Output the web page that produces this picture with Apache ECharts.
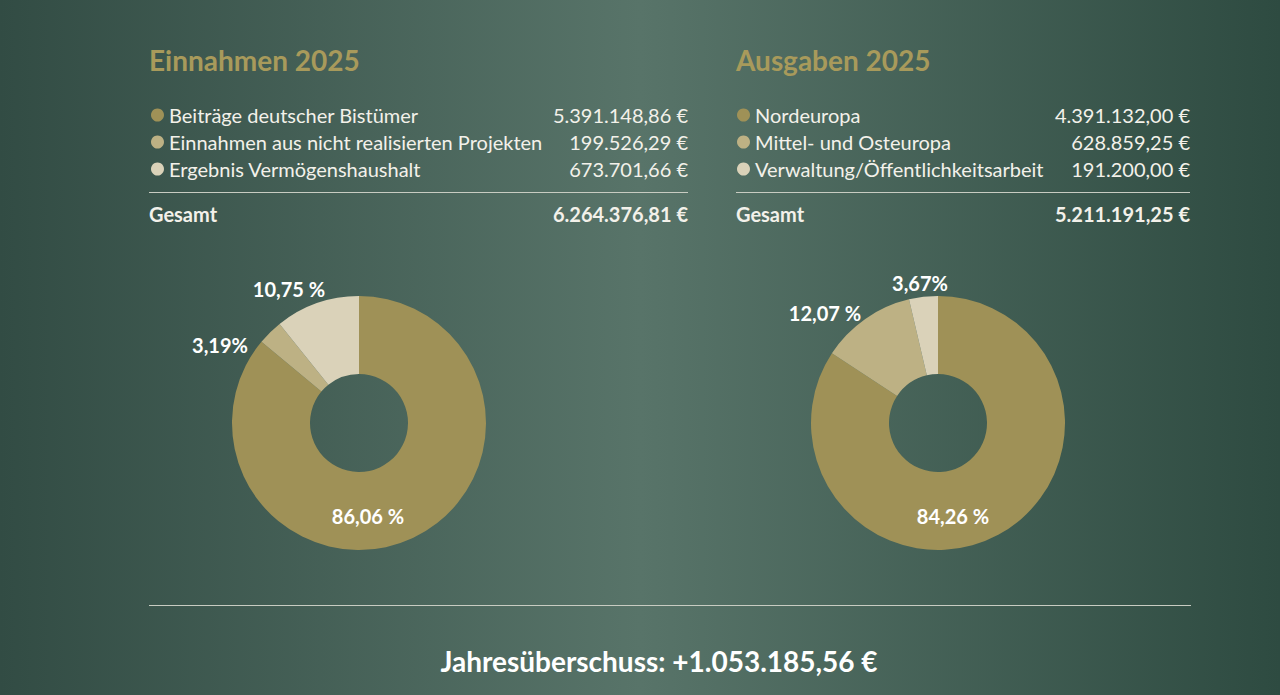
<!DOCTYPE html>
<html>
<head>
<meta charset="utf-8">
<script src="https://cdn.jsdelivr.net/npm/echarts@6/dist/echarts.min.js"></script>
<style>
  html, body { margin: 0; padding: 0; }
  #main { width: 1280px; height: 695px; }
</style>
</head>
<body>
<div id="main"></div>
<script>
// Einnahmen
var einnahmenNamen = ['Beiträge deutscher Bistümer', 'Einnahmen aus nicht realisierten Projekten', 'Ergebnis Vermögenshaushalt'];
var einnahmenWerte = [5391148.86, 199526.29, 673701.66];
var einnahmenProzent = ['86,06 %', '3,19%', '10,75 %'];
var einnahmenGesamt = 6264376.81;
// Ausgaben
var ausgabenNamen = ['Nordeuropa', 'Mittel- und Osteuropa', 'Verwaltung/Öffentlichkeitsarbeit'];
var ausgabenWerte = [4391132.00, 628859.25, 191200.00];
var ausgabenProzent = ['84,26 %', '12,07 %', '3,67%'];
var ausgabenGesamt = 5211191.25;
var ueberschuss = '+1.053.185,56 €';

var farben = ['#9f9157', '#bdb184', '#dad2b9'];
var schrift = 'Lato, "Noto Sans", sans-serif';
var weiss = '#f3f1ea';

// Zahl im deutschen Format
function euro(v) {
  var s = v.toFixed(2).split('.');
  var ganz = s[0].replace(/\B(?=(\d{3})+(?!\d))/g, '.');
  return ganz + ',' + s[1] + ' €';
}

function pieData(namen, werte) {
  return namen.map(function (n, i) {
    return { name: n, value: werte[i], itemStyle: { color: farben[i] } };
  });
}

// Label-Positionen (Pixel im Chart)
var labelPosLinks = [[368, 516], [220, 345], [289, 289]];
var labelPosRechts = [[953, 516], [825, 313], [920, 283]];

function legende(namen, werte, left, nameBreite) {
  var map = {};
  namen.forEach(function (n, i) { map[n] = euro(werte[i]); });
  return {
    orient: 'vertical',
    left: left,
    top: 100,
    itemWidth: 13,
    itemHeight: 13,
    itemGap: 7,
    icon: 'circle',
    selectedMode: false,
    data: namen,
    formatter: function (name) {
      return '{n|' + name + '}{v|' + map[name] + '}';
    },
    textStyle: {
      color: weiss,
      fontFamily: schrift,
      fontSize: 20,
      rich: {
        n: { width: nameBreite, fontSize: 20, lineHeight: 22, color: weiss, fontFamily: schrift },
        v: { width: 140, align: 'right', fontSize: 20, lineHeight: 22, color: weiss, fontFamily: schrift }
      }
    }
  };
}

function pieSerie(name, namen, werte, prozent, center, pos) {
  return {
    name: name,
    type: 'pie',
    center: center,
    radius: [49, 127],
    startAngle: 90,
    clockwise: true,
    silent: true,
    data: pieData(namen, werte),
    label: {
      show: true,
      color: '#ffffff',
      fontFamily: schrift,
      fontWeight: 'bold',
      fontSize: 20,
      formatter: function (p) { return prozent[p.dataIndex]; }
    },
    labelLine: { show: false },
    labelLayout: function (p) {
      return { x: pos[p.dataIndex][0], y: pos[p.dataIndex][1], align: 'center', verticalAlign: 'middle' };
    }
  };
}

function linie(x1, y, x2) {
  return { type: 'line', shape: { x1: x1, y1: y, x2: x2, y2: y }, style: { stroke: '#c8ccc2', lineWidth: 1 }, silent: true };
}
function text(t, x, y, size, color, align) {
  return {
    type: 'text', x: x, y: y, silent: true,
    style: { text: t, fill: color, font: 'bold ' + size + 'px ' + schrift, textAlign: align || 'left', textVerticalAlign: 'middle' }
  };
}

var myChart = echarts.init(document.getElementById('main'), null, { renderer: 'svg' });
var option = {
  backgroundColor: {
    type: 'linear', x: 0, y: 0, x2: 1, y2: 0,
    colorStops: [
      { offset: 0, color: '#324c44' },
      { offset: 0.5, color: '#587469' },
      { offset: 1, color: '#2e4b41' }
    ]
  },
  legend: [
    legende(einnahmenNamen, einnahmenWerte, 146, 379),
    legende(ausgabenNamen, ausgabenWerte, 732, 295)
  ],
  graphic: [
    text('Einnahmen 2025', 149, 60, 28, '#a89a5b'),
    text('Ausgaben 2025', 736, 60, 28, '#a89a5b'),
    linie(149, 192.5, 688),
    linie(736, 192.5, 1190),
    text('Gesamt', 149, 214, 20, weiss),
    text(euro(einnahmenGesamt), 688, 214, 20, weiss, 'right'),
    text('Gesamt', 736, 214, 20, weiss),
    text(euro(ausgabenGesamt), 1190, 214, 20, weiss, 'right'),
    linie(149, 605.5, 1191),
    text('Jahresüberschuss: ' + ueberschuss, 659, 661, 28, '#ffffff', 'center')
  ],
  series: [
    pieSerie('Einnahmen 2025', einnahmenNamen, einnahmenWerte, einnahmenProzent, [359, 423], labelPosLinks),
    pieSerie('Ausgaben 2025', ausgabenNamen, ausgabenWerte, ausgabenProzent, [938, 423], labelPosRechts)
  ]
};
myChart.setOption(option);
</script>
</body>
</html>
